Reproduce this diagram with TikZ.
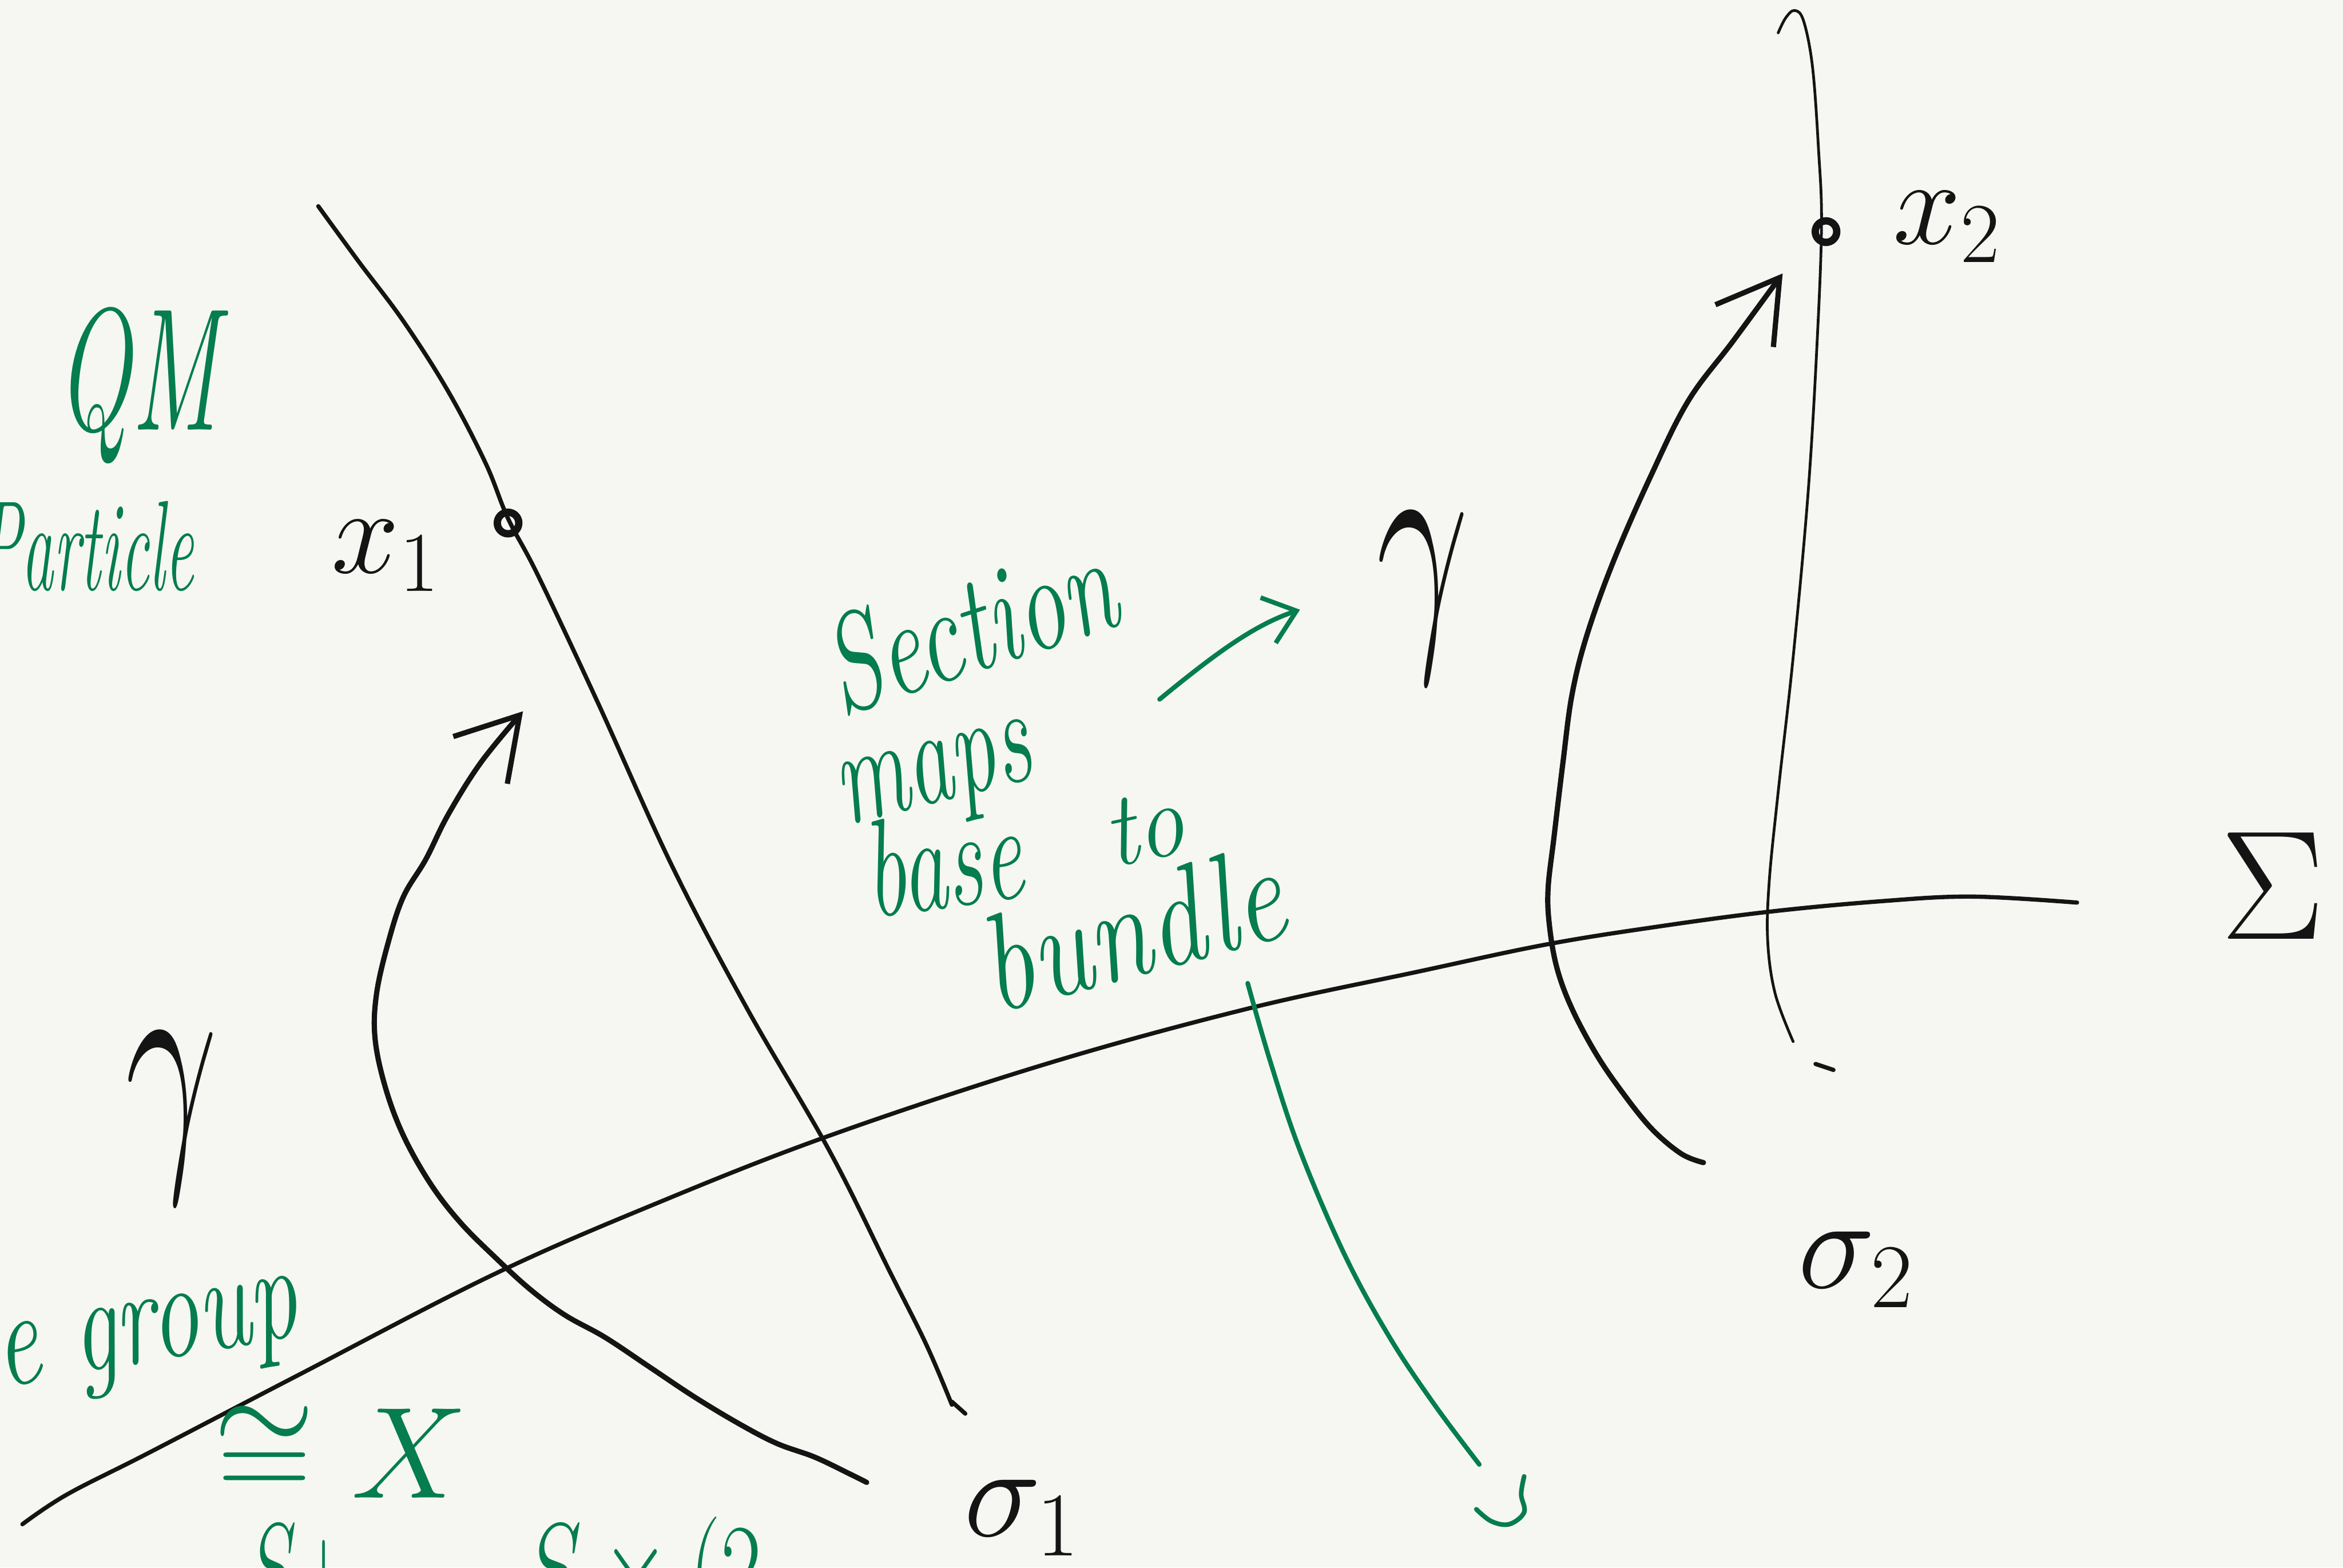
\RequirePackage{fix-cm}
\documentclass[tikz,border=0pt]{standalone}
\usepackage{graphicx}
\usetikzlibrary{arrows.meta}
\definecolor{paper}{HTML}{F6F7F2}
\definecolor{inkblack}{HTML}{141414}
\definecolor{notegreen}{HTML}{057D4E}
\newcommand\hand[1]{\fontsize{#1}{#1}\selectfont}
\newcommand\squeeze[2]{\scalebox{#1}[1]{#2}}

\begin{document}
\begin{tikzpicture}[x=0.025cm, y=-0.025cm,
    ink/.style={draw=inkblack, line width=2pt, line cap=round, line join=round},
    thinink/.style={ink, line width=1.3pt},
    greenink/.style={draw=notegreen, line width=2.2pt, line cap=round, line join=round},
    secarrow/.style={ink, line width=2.5pt, -{Straight Barb[length=10mm, width=12mm]}},
    notearrow/.style={greenink, -{Straight Barb[length=5mm, width=8mm]}},
    note/.style={text=notegreen, inner sep=0pt, font=\hand{#1}\itshape},
    note/.default=66,
    sym/.style={text=inkblack, inner sep=0pt, font=\hand{#1}},
    sym/.default=58,
    fibrept/.style={circle, draw=inkblack, line width=3.5pt, minimum size=3.6mm, inner sep=0pt}
]
\fill[paper] (0,0) rectangle (1568,1049);
\path[use as bounding box] (0,0) rectangle (1568,1049);
\clip (0,0) rectangle (1568,1049);

% --- base and fibres ---
\draw[ink] plot[smooth, tension=0.6] coordinates {(15,1020) (45,1000) (100,972) (200,920)
    (330,853) (440,805) (555,760) (700,712) (835,675) (950,650) (1035,632) (1110,620)
    (1185,610) (1260,603) (1320,600) (1390,604)};
\draw[ink] plot[smooth, tension=0.6] coordinates {(213,138) (240,175)
    (270,215) (300,262) (325,310) (340,347) (360,385) (400,470) (450,580) (500,675)
    (555,770) (595,850) (620,900) (637,940)};
\draw[ink] (637,938) -- (646,946);
\draw[thinink] plot[smooth, tension=0.6] coordinates {(1190,22) (1195,12) (1201,7) (1207,14)
    (1213,45) (1217,100) (1219,150) (1216,230) (1210,330) (1200,440) (1190,530)
    (1184,590) (1183,630) (1188,665) (1200,697)};
\draw[ink] (1215,712) -- (1227,716);

% --- points on the fibres ---
\node[fibrept] (x1pt) at (340,350) {};
\node[fibrept] (x2pt) at (1222,155) {};
\node[sym] (x1) at (258,372) {$x_1$};
\node[sym] (x2) at (1303,152) {$x_2$};

% --- base points and sections ---
\node[sym=62, anchor=base west] (s1) at (645,1028) {$\sigma_1$};
\node[sym=62, anchor=base west] (s2) at (1203,862) {$\sigma_2$};
\node[sym=74] (Sig) at (1521,593) {$\Sigma$};
\coordinate (s1foot) at (580,992);
\coordinate (s1tip) at (350,476);
\coordinate (s2foot) at (1140,778);
\coordinate (s2tip) at (1193,183);

\draw[secarrow] plot[smooth, tension=0.6] coordinates {(s1foot) (568,986) (545,975)
    (520,966) (495,953) (465,935) (435,915) (405,895) (378,880) (355,863) (332,842)
    (308,818) (288,792) (270,760) (258,728) (251,695) (252,665) (260,630) (270,600)
    (285,575) (300,545) (322,510) (s1tip)};
\draw[secarrow] plot[smooth, tension=0.6] coordinates {(s2foot) (1125,772) (1105,755)
    (1085,730) (1068,705) (1052,675) (1042,648) (1037,620) (1036,595) (1040,560)
    (1046,510) (1052,465) (1062,425) (1080,375) (1105,318) (1130,268) (1160,228) (s2tip)};

% --- gammas ---
\node[sym=130] (gleft) at (115,748) {\squeeze{0.6}{$\gamma$}};
\node[sym=130] (gmid) at (952,400) {\squeeze{0.6}{$\gamma$}};

% --- green notes ---
\node[note=83] (qm) at (92,258) {\squeeze{0.57}{QM}};
\node[note=61, anchor=base east] (part) at (130,395) {\squeeze{0.5}{Particle}};
\node[note, rotate=10] (lie) at (100,900) {\squeeze{0.7}{e group}};
\node[note=62] (iso) at (228,972) {$\cong X$};
\node[note=60, anchor=base] (bot1) at (200,1078) {\squeeze{0.6}{$S+$}};
\node[note=60, anchor=base] (bot2) at (430,1078) {\squeeze{0.7}{$S\times(2$}};

\node[note, rotate=18] (sec) at (648,418) {\squeeze{0.7}{Section}};
\node[note, rotate=14, anchor=base] (maps) at (630,536) {\squeeze{0.65}{maps}};
\node[note, rotate=8, anchor=base] (base) at (635,607) {\squeeze{0.65}{base}};
\node[note=50, rotate=12, anchor=base] (to) at (770,575) {\squeeze{0.9}{to}};
\node[note, rotate=15, anchor=base] (bund) at (765,652) {\squeeze{0.8}{bundle}};

\coordinate (gafrom) at (776,468);
\coordinate (gato) at (870,408);
\draw[notearrow] (gafrom) .. controls (815,436) and (840,418) .. (gato);

\draw[greenink] plot[smooth, tension=0.6] coordinates {(835,658) (850,710) (870,770)
    (900,840) (930,895) (960,940) (990,980)};
\draw[greenink] plot[smooth, tension=0.6] coordinates {(1020,988) (1018,1000) (1020,1012)
    (1010,1020) (998,1018) (988,1010)};
\end{tikzpicture}
\end{document}
